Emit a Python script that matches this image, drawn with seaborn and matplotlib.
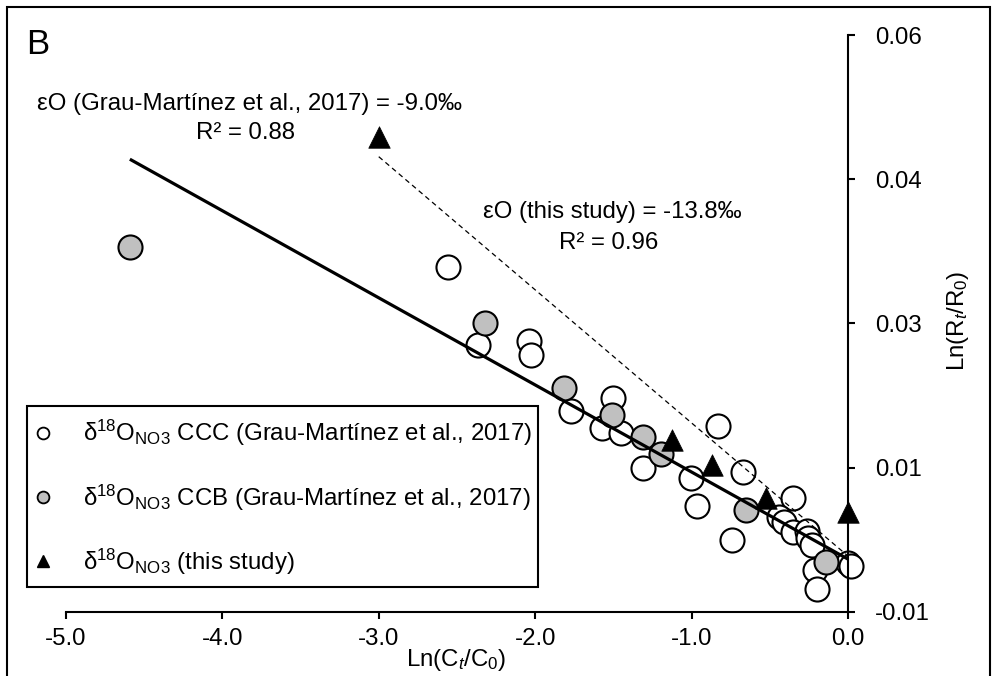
import numpy as np
import pandas as pd
import matplotlib
matplotlib.use("Agg")
import matplotlib.pyplot as plt
import seaborn as sns
from matplotlib.patches import Rectangle
from matplotlib.lines import Line2D

# ---------------- data ----------------
ccc_x = [-2.560, -2.364, -2.038, -2.028, -1.772, -1.502, -1.576, -1.452, -1.314,
         -0.831, -1.005, -0.969, -0.671, -0.745, -0.351, -0.441, -0.411, -0.351,
         -0.261, -0.258, -0.234, -0.213, -0.203, 0.000, 0.020]
ccc_y = [0.0319, 0.0224, 0.0229, 0.0211, 0.0144, 0.0159, 0.0123, 0.0117, 0.0074,
         0.0125, 0.0062, 0.0028, 0.0069, -0.0013, 0.0038, 0.0015, 0.0009, -0.0003,
         -0.0002, -0.0011, -0.0019, -0.0049, -0.0072, -0.0041, -0.0045]

ccb_x = [-4.590, -2.320, -1.815, -1.512, -1.310, -1.199, -0.656, -0.142]
ccb_y = [0.0343, 0.0250, 0.0171, 0.0139, 0.0112, 0.0092, 0.0024, -0.0040]

this_x = [-3.000, -1.125, -0.869, -0.528, 0.000]
this_y = [0.0476, 0.0109, 0.0078, 0.0038, 0.0021]

# regression lines (slope, intercept, x-range)
fit_gm_coef = [-0.01058, -0.00364]
fit_gm_range = [-4.59, 0.0]
fit_this_coef = [-0.01617, -0.00328]
fit_this_range = [-3.0, 0.0]

x_ticks = [-5.0, -4.0, -3.0, -2.0, -1.0, 0.0]
x_ticklabels = ["-5.0", "-4.0", "-3.0", "-2.0", "-1.0", "0.0"]
y_ticks = [-0.01, 0.0075, 0.025, 0.0425, 0.06]
y_ticklabels = ["-0.01", "0.01", "0.03", "0.04", "0.06"]

lab_ccc = r"δ$^{18}$O$_{\mathrm{NO3}}$ CCC (Grau-Martínez et al., 2017)"
lab_ccb = r"δ$^{18}$O$_{\mathrm{NO3}}$ CCB (Grau-Martínez et al., 2017)"
lab_this = r"δ$^{18}$O$_{\mathrm{NO3}}$ (this study)"

# ---------------- style ----------------
sns.set_theme(style="white")
plt.rcParams["font.family"] = ["Liberation Sans", "DejaVu Sans"]
plt.rcParams["mathtext.fontset"] = "custom"
plt.rcParams["mathtext.rm"] = "Liberation Sans"
plt.rcParams["mathtext.it"] = "Liberation Sans:italic"
plt.rcParams["mathtext.bf"] = "Liberation Sans:bold"

FS = 17.3
W, H = 992, 676
fig = plt.figure(figsize=(W / 100, H / 100), dpi=100)
ax = fig.add_axes([65.7 / W, (H - 611.7) / H, (848.3 - 65.7) / W, (611.7 - 35) / H])

df_ccc = pd.DataFrame({"x": ccc_x, "y": ccc_y})
df_ccb = pd.DataFrame({"x": ccb_x, "y": ccb_y})
df_this = pd.DataFrame({"x": this_x, "y": this_y})

sns.scatterplot(data=df_ccc, x="x", y="y", ax=ax, marker="o", s=300,
                color="white", edgecolor="black", linewidth=1.5, zorder=2,
                clip_on=False, legend=False)
sns.scatterplot(data=df_ccb, x="x", y="y", ax=ax, marker="o", s=300,
                color="#c0c0c0", edgecolor="black", linewidth=1.5, zorder=3,
                clip_on=False, legend=False)

gx = np.array(fit_gm_range)
ax.plot(gx, fit_gm_coef[0] * gx + fit_gm_coef[1], color="black", lw=2.3,
        zorder=4, solid_capstyle="butt")
tx = np.array(fit_this_range)
ax.plot(tx, fit_this_coef[0] * tx + fit_this_coef[1], color="black", lw=0.9,
        ls=(0, (4, 3)), zorder=4)

sns.scatterplot(data=df_this, x="x", y="y", ax=ax, marker="^", s=240,
                color="black", edgecolor="black", linewidth=0.5, zorder=5,
                clip_on=False, legend=False)

ax.set_xlim(-5.0, 0.0)
ax.set_ylim(-0.01, 0.06)

for s in ["top", "left"]:
    ax.spines[s].set_visible(False)
for s in ["bottom", "right"]:
    ax.spines[s].set_color("black")
    ax.spines[s].set_linewidth(1.5)

ax.set_xticks(x_ticks)
ax.set_xticklabels(x_ticklabels)
ax.set_yticks(y_ticks)
ax.set_yticklabels(y_ticklabels)
ax.yaxis.tick_right()
ax.tick_params(axis="x", direction="out", length=5, width=1.5, colors="black",
               labelsize=FS, pad=7, bottom=True)
ax.tick_params(axis="y", direction="out", length=5, width=1.5, colors="black",
               labelsize=FS, pad=14, right=True, left=False)

ax.set_xlabel(r"Ln(C$_{t}$/C$_{0}$)", fontsize=FS, color="black")
ax.xaxis.set_label_coords((456 - 65.7) / 782.6, (611.7 - 660) / 576.7)
ax.xaxis.label.set_va("center")
ax.set_ylabel(r"Ln(R$_{t}$/R$_{0}$)", fontsize=FS, color="black", rotation=90)
ax.yaxis.set_label_position("right")
ax.yaxis.set_label_coords((958 - 65.7) / 782.6, (611.7 - 321) / 576.7)
ax.yaxis.label.set_va("center")
ax.yaxis.label.set_ha("center")
ax.grid(False)

# annotations
ax.text(-3.823, 0.05163, "εO (Grau-Martínez et al., 2017) = -9.0‰", ha="center",
        va="center", fontsize=FS, color="black")
ax.text(-3.85, 0.04811, "R² = 0.88", ha="center", va="center", fontsize=FS,
        color="black")
ax.text(-1.510, 0.03852, "εO (this study) = -13.8‰", ha="center", va="center",
        fontsize=FS, color="black")
ax.text(-1.529, 0.0347, "R² = 0.96", ha="center", va="center", fontsize=FS,
        color="black")

fig.text(26 / W, 1 - 28 / H, "B", ha="left", va="top", fontsize=25, color="black")

# legend
handles = [
    Line2D([], [], ls="none", marker="o", ms=8.5, mfc="white", mec="black", mew=1.3),
    Line2D([], [], ls="none", marker="o", ms=8.5, mfc="#c0c0c0", mec="black", mew=1.3),
    Line2D([], [], ls="none", marker="^", ms=8, mfc="black", mec="black"),
]
leg = fig.legend(handles, [lab_ccc, lab_ccb, lab_this], loc="center left",
                 bbox_to_anchor=(33.5 / W, 1 - 497.5 / H), frameon=False,
                 fontsize=FS, handlelength=0.75, handletextpad=1.3,
                 borderpad=0, borderaxespad=0, labelspacing=1.42)
for t in leg.get_texts():
    t.set_color("black")

fig.add_artist(Rectangle((27 / W, (H - 587) / H), 511 / W, 181 / H,
                         transform=fig.transFigure, fill=False,
                         edgecolor="black", lw=1.5))
# outer chart frame
fig.add_artist(Rectangle((6.7 / W, -0.05), (990 - 6.7) / W, 1.05 - 6.7 / H,
                         transform=fig.transFigure, fill=False,
                         edgecolor="black", lw=1.5, clip_on=False))

fig.savefig("out.png", dpi=100, facecolor="white")
